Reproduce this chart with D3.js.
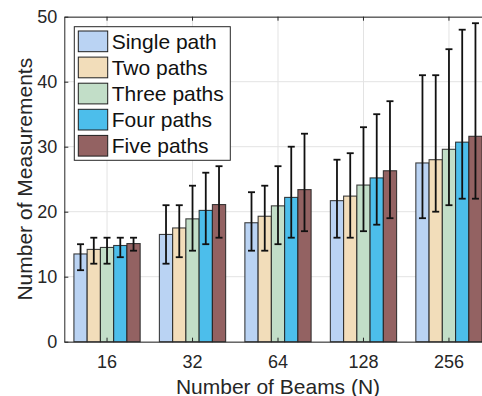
<!DOCTYPE html>
<html>
<head>
<meta charset="utf-8">
<script src="https://cdn.jsdelivr.net/npm/d3@7"></script>
<style>
  html, body { margin: 0; padding: 0; background: #fff; }
  svg { display: block; font-family: "Liberation Sans", Arial, Helvetica, sans-serif; }
</style>
</head>
<body>
<svg id="chart" width="482" height="396"></svg>
<script>
// Beam counts on the x axis
const categories = ["16", "32", "64", "128", "256"];
const seriesNames = ["Single path", "Two paths", "Three paths", "Four paths", "Five paths"];
const seriesColors = ["#bad3f3", "#f2ddba", "#c2dec8", "#4cbeeb", "#936262"];

// Mean number of measurements per series (one value per beam count)
const meanSingle = [13.5, 16.5, 18.3, 21.7, 27.5];
const meanTwo    = [14.2, 17.5, 19.3, 22.4, 28.0];
const meanThree  = [14.5, 18.9, 20.9, 24.1, 29.6];
const meanFour   = [14.8, 20.2, 22.2, 25.2, 30.7];
const meanFive   = [15.1, 21.1, 23.4, 26.3, 31.6];

// Minimum and maximum (error bar ends)
const minSingle = [11, 12, 14, 16, 19];
const minTwo    = [12, 13, 14, 16, 20];
const minThree  = [12, 14, 15, 17, 21];
const minFour   = [13, 15, 16, 18, 22];
const minFive   = [14, 16, 17, 19, 22];

const maxSingle = [15, 21, 23, 28, 41];
const maxTwo    = [16, 21, 24, 29, 41];
const maxThree  = [16, 24, 27, 33, 45];
const maxFour   = [16, 26, 30, 35, 48];
const maxFive   = [16, 27, 32, 37, 49];

const yTicks = [0, 10, 20, 30, 40, 50];

const means = [meanSingle, meanTwo, meanThree, meanFour, meanFive];
const mins  = [minSingle, minTwo, minThree, minFour, minFive];
const maxs  = [maxSingle, maxTwo, maxThree, maxFour, maxFive];

const svg = d3.select("#chart");
const plotLeft = 64.3, plotRight = 491.7, plotTop = 16.7, plotBottom = 341.7;
const axisColor = "#262626";

const x = d3.scaleBand().domain(categories).range([plotLeft, plotRight]).paddingInner(0).paddingOuter(0);
const groupWidth = x.bandwidth() * 0.775;
const xSub = d3.scaleBand().domain(seriesNames).range([-groupWidth / 2, groupWidth / 2]);
const y = d3.scaleLinear().domain([0, 50]).range([plotBottom, plotTop]);
const cx = c => x(c) + x.bandwidth() / 2;

// Grid
const grid = svg.append("g").attr("stroke", "#e3e3e3").attr("stroke-width", 1);
grid.selectAll("line.h").data(yTicks).join("line")
  .attr("x1", plotLeft).attr("x2", plotRight)
  .attr("y1", d => y(d)).attr("y2", d => y(d));
grid.selectAll("line.v").data(categories).join("line")
  .attr("x1", cx).attr("x2", cx)
  .attr("y1", plotTop).attr("y2", plotBottom);

// Bars
const rows = [];
seriesNames.forEach((s, si) => {
  categories.forEach((c, ci) => {
    rows.push({ s, si, c, mean: means[si][ci], lo: mins[si][ci], hi: maxs[si][ci] });
  });
});

svg.append("g").selectAll("rect").data(rows).join("rect")
  .attr("x", d => cx(d.c) + xSub(d.s))
  .attr("width", xSub.bandwidth())
  .attr("y", d => y(d.mean))
  .attr("height", d => y(0) - y(d.mean))
  .attr("fill", d => seriesColors[d.si])
  .attr("stroke", "#1f1f1f")
  .attr("stroke-opacity", 0.85)
  .attr("stroke-width", 1.1);

// Error bars
const capHalf = 3.5;
const eb = svg.append("g").attr("stroke", "#111").attr("stroke-width", 1.8);
const ebx = d => cx(d.c) + xSub(d.s) + xSub.bandwidth() / 2;
eb.selectAll("line.stem").data(rows).join("line")
  .attr("x1", ebx).attr("x2", ebx)
  .attr("y1", d => y(d.lo)).attr("y2", d => y(d.hi));
eb.selectAll("line.capHi").data(rows).join("line")
  .attr("x1", d => ebx(d) - capHalf).attr("x2", d => ebx(d) + capHalf)
  .attr("y1", d => y(d.hi)).attr("y2", d => y(d.hi));
eb.selectAll("line.capLo").data(rows).join("line")
  .attr("x1", d => ebx(d) - capHalf).attr("x2", d => ebx(d) + capHalf)
  .attr("y1", d => y(d.lo)).attr("y2", d => y(d.lo));

// Axes
const yAxis = svg.append("g").attr("transform", `translate(${plotLeft},0)`)
  .call(d3.axisLeft(y).tickValues(yTicks).tickSizeInner(-4).tickSizeOuter(0).tickPadding(7));
const xAxis = svg.append("g").attr("transform", `translate(0,${plotBottom})`)
  .call(d3.axisBottom(x).tickSizeInner(-4).tickSizeOuter(0).tickPadding(14));
const xTop = svg.append("g").attr("transform", `translate(0,${plotTop})`)
  .call(d3.axisTop(x).tickSizeInner(-4).tickSizeOuter(0).tickFormat(""));
[yAxis, xAxis, xTop].forEach(g => {
  g.select(".domain").attr("stroke", axisColor).attr("stroke-width", 1);
  g.selectAll(".tick line").attr("stroke", axisColor).attr("stroke-width", 1);
  g.selectAll(".tick text").attr("fill", axisColor).attr("font-size", 18)
    .attr("font-family", "Liberation Sans, Arial, sans-serif");
});

// Axis titles
svg.append("text")
  .attr("x", (plotLeft + plotRight) / 2).attr("y", 393.5)
  .attr("text-anchor", "middle").attr("font-size", 21).attr("fill", axisColor)
  .text("Number of Beams (N)");
svg.append("text")
  .attr("transform", `translate(32,${(plotTop + plotBottom) / 2}) rotate(-90)`)
  .attr("text-anchor", "middle").attr("font-size", 21).attr("fill", axisColor)
  .text("Number of Measurements");

// Legend
const lg = svg.append("g").attr("transform", "translate(74.3,26.7)");
lg.append("rect").attr("width", 156).attr("height", 133.6)
  .attr("fill", "#fff").attr("stroke", axisColor).attr("stroke-width", 1);
const item = lg.selectAll("g.item").data(seriesNames).join("g")
  .attr("transform", (d, i) => `translate(4,${4.3 + i * 26.1})`);
item.append("rect").attr("width", 29.4).attr("height", 20.7)
  .attr("fill", (d, i) => seriesColors[i]).attr("stroke", "#1f1f1f").attr("stroke-width", 1);
item.append("text").attr("x", 33.4).attr("y", 10.35).attr("dy", "0.36em")
  .attr("font-size", 21).attr("fill", "#111").text(d => d);
</script>
</body>
</html>
